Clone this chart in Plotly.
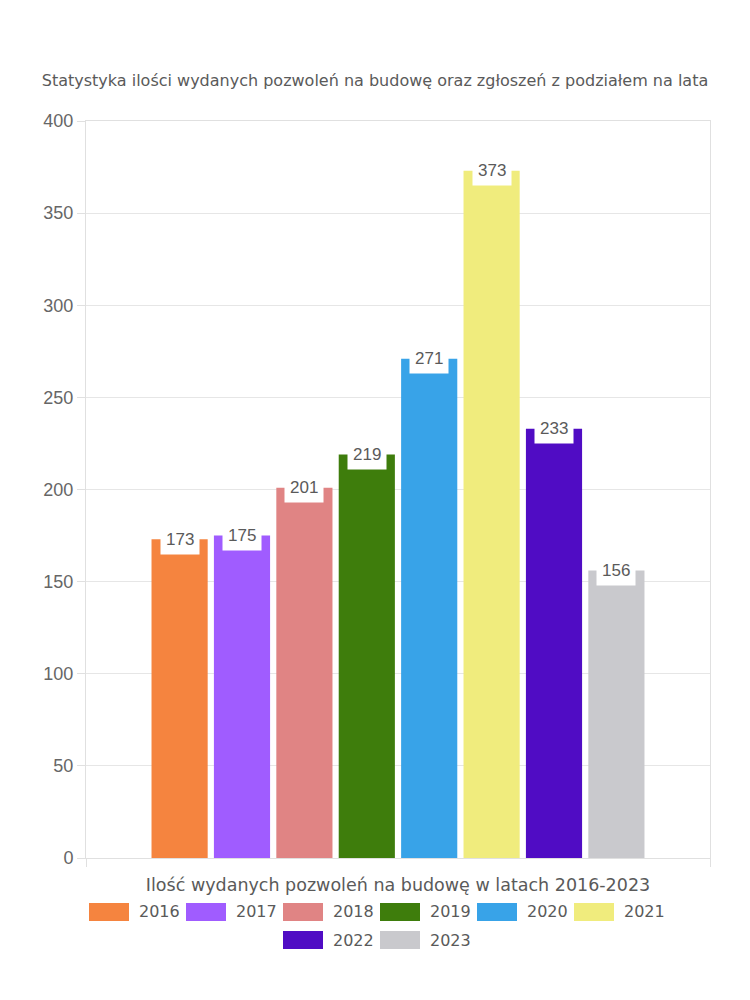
import plotly.graph_objects as go

years = ["2016", "2017", "2018", "2019", "2020", "2021", "2022", "2023"]
values = [173, 175, 201, 219, 271, 373, 233, 156]
colors = ["#F5843F", "#A05CFF", "#E08484", "#3E7D0C", "#38A3E8", "#F0EC7D", "#500CC4", "#C9C9CD"]
y_ticks = [0, 50, 100, 150, 200, 250, 300, 350, 400]

title_text = "Statystyka ilości wydanych pozwoleń na budowę oraz zgłoszeń z podziałem na lata"
x_title = "Ilość wydanych pozwoleń na budowę w latach 2016-2023"

W, H = 750, 1000
L, R, T, B = 86, 40, 121, 142
pw, ph = W - L - R, H - T - B

def px_x(px):
    return (px - L) / pw

def px_y(py):
    return (H - B - py) / ph

font_main = "DejaVu Sans, Lato, sans-serif"
font_num = "Liberation Sans, Arial"
txt_color = "#5a5a5a"

fig = go.Figure()
for i, (yr, v, c) in enumerate(zip(years, values, colors)):
    fig.add_trace(go.Bar(x=[i], y=[v], name=yr, marker=dict(color=c, line=dict(width=0)),
                         width=0.9, showlegend=False, hoverinfo="name+y"))
    fig.add_annotation(x=i, y=v, xref="x", yref="y", text=str(v), showarrow=False,
                       bgcolor="white", borderpad=5, yshift=0, yanchor="middle",
                       font=dict(family=font_num, size=17, color=txt_color))

# custom legend
row1 = years[:6]
row2 = years[6:]
shapes = []
annots = []
def legend_row(items, start_px, y_center_px, start_idx):
    for k, yr in enumerate(items):
        idx = start_idx + k
        x0 = start_px + k * 97
        shapes.append(dict(type="rect", xref="paper", yref="paper",
                           x0=px_x(x0), x1=px_x(x0 + 40),
                           y0=px_y(y_center_px + 9), y1=px_y(y_center_px - 9),
                           fillcolor=colors[idx], line=dict(width=0)))
        annots.append(dict(x=px_x(x0 + 48), y=px_y(y_center_px), xref="paper", yref="paper",
                           text=yr, showarrow=False, xanchor="left", yanchor="middle",
                           font=dict(family=font_main, size=16, color=txt_color)))
legend_row(row1, 89, 912, 0)
legend_row(row2, 283, 940, 6)

for s in shapes:
    fig.add_shape(**s)
for a in annots:
    fig.add_annotation(**a)

fig.update_layout(
    width=W, height=H,
    margin=dict(l=L, r=R, t=T, b=B),
    paper_bgcolor="white", plot_bgcolor="white",
    barmode="overlay",
    title=dict(text=title_text, x=0.5, xanchor="center", y=1 - 80 / H, yanchor="middle",
               font=dict(family=font_main, size=16, color=txt_color)),
    xaxis=dict(range=[-1.5, 8.5], showgrid=False, zeroline=False,
               showline=True, linecolor="#E0E0E0", linewidth=1, mirror=True,
               tickvals=[-1.5, 8.5], ticks="outside", ticklen=8, tickcolor="#E0E0E0",
               showticklabels=False, fixedrange=True,
               title=dict(text=x_title, standoff=12,
                          font=dict(family=font_main, size=17.5, color=txt_color))),
    yaxis=dict(range=[0, 400], tickvals=y_ticks, showgrid=True, gridcolor="#E6E6E6",
               zeroline=False, showline=True, linecolor="#E0E0E0", mirror=True,
               ticks="outside", ticklen=8, tickcolor="#E0E0E0",
               tickfont=dict(family=font_num, size=18, color="#666666")),
)

fig.write_html("out.html")
